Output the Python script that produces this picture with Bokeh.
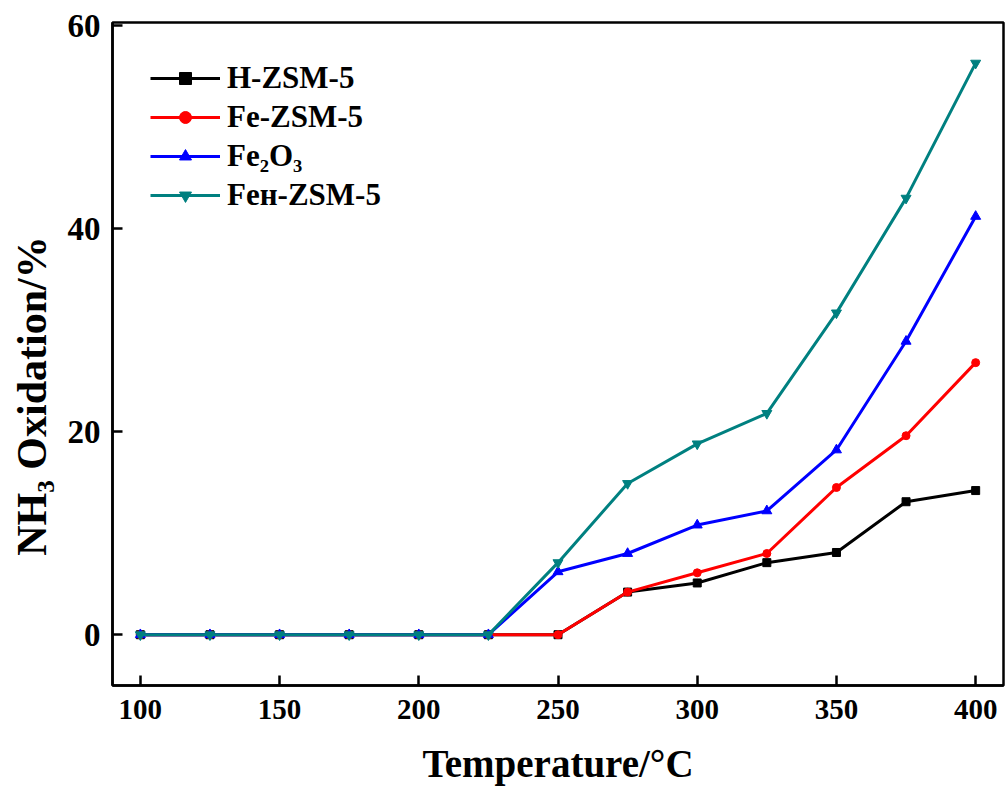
from bokeh.plotting import figure
from bokeh.models import FixedTicker, Range1d, Legend
from bokeh.embed import file_html
from bokeh.resources import INLINE

temps = [100, 125, 150, 175, 200, 225, 250, 275, 300, 325, 350, 375, 400]
h_zsm5 = [0, 0, 0, 0, 0, 0, 0, 4.2, 5.1, 7.1, 8.1, 13.1, 14.2]
fe_zsm5 = [0, 0, 0, 0, 0, 0, 0, 4.2, 6.1, 8.0, 14.5, 19.6, 26.8]
fe2o3 = [0, 0, 0, 0, 0, 0, 6.2, 8.0, 10.8, 12.2, 18.2, 28.9, 41.2]
feh_zsm5 = [0, 0, 0, 0, 0, 0, 7.1, 14.9, 18.8, 21.8, 31.7, 43.0, 56.3]

labels = ["H-ZSM-5", "Fe-ZSM-5", "Fe\u2082O\u2083", "Fe\u029c-ZSM-5"]
colors = ["#000000", "#ff0000", "#0000ff", "#008080"]
markers = ["square", "circle", "triangle", "inverted_triangle"]
sizes = [8, 8, 10, 10]
x_ticks = [100, 150, 200, 250, 300, 350, 400]
y_ticks = [0, 20, 40, 60]

FONT = "Liberation Serif"

p = figure(width=1005, height=796, output_backend="svg", toolbar_location=None,
           x_range=Range1d(90, 410), y_range=Range1d(-5, 60.3),
           min_border_left=112, min_border_right=2, min_border_top=22, min_border_bottom=111)

items = []
for ys, lab, col, mk, sz in zip([h_zsm5, fe_zsm5, fe2o3, feh_zsm5], labels, colors, markers, sizes):
    r1 = p.line(temps, ys, line_color=col, line_width=3)
    r2 = p.scatter(temps, ys, marker=mk, size=sz, fill_color=col, line_color=col)
    items.append((lab, [r1, r2]))

legend = Legend(items=items, location="top_left", border_line_color=None,
                background_fill_alpha=0, label_text_font=FONT, label_text_font_style="bold",
                label_text_font_size="31px", label_text_color="black",
                glyph_width=70, glyph_height=30, label_height=30,
                spacing=3, margin=38, padding=5, label_standoff=7)
p.add_layout(legend)

p.grid.visible = False
p.outline_line_color = "black"
p.outline_line_width = 2.5
p.background_fill_color = "white"
p.border_fill_color = "white"

p.xaxis.ticker = FixedTicker(ticks=x_ticks)
p.yaxis.ticker = FixedTicker(ticks=y_ticks)
for ax in (p.xaxis, p.yaxis):
    ax.major_tick_in = 10
    ax.major_tick_out = 0
    ax.minor_tick_line_color = None
    ax.axis_line_width = 2.5
    ax.major_tick_line_width = 2.5
    ax.major_label_text_font = FONT
    ax.major_label_text_font_style = "bold"
    ax.major_label_text_color = "black"
    ax.axis_label_text_font = FONT
    ax.axis_label_text_font_style = "bold"
    ax.axis_label_text_color = "black"

p.xaxis.major_label_text_font_size = "29px"
p.yaxis.major_label_text_font_size = "33px"
p.xaxis.major_label_standoff = 14
p.yaxis.major_label_standoff = 12
p.xaxis.axis_label = "Temperature/\u00b0C"
p.xaxis.axis_label_text_font_size = "39px"
p.xaxis.axis_label_standoff = 20
p.yaxis.axis_label = "NH\u2083 Oxidation/%" + "\u00a0" * 8
p.yaxis.axis_label_text_font_size = "42px"
p.yaxis.axis_label_standoff = 10

open("out.html", "w").write(file_html(p, INLINE))
